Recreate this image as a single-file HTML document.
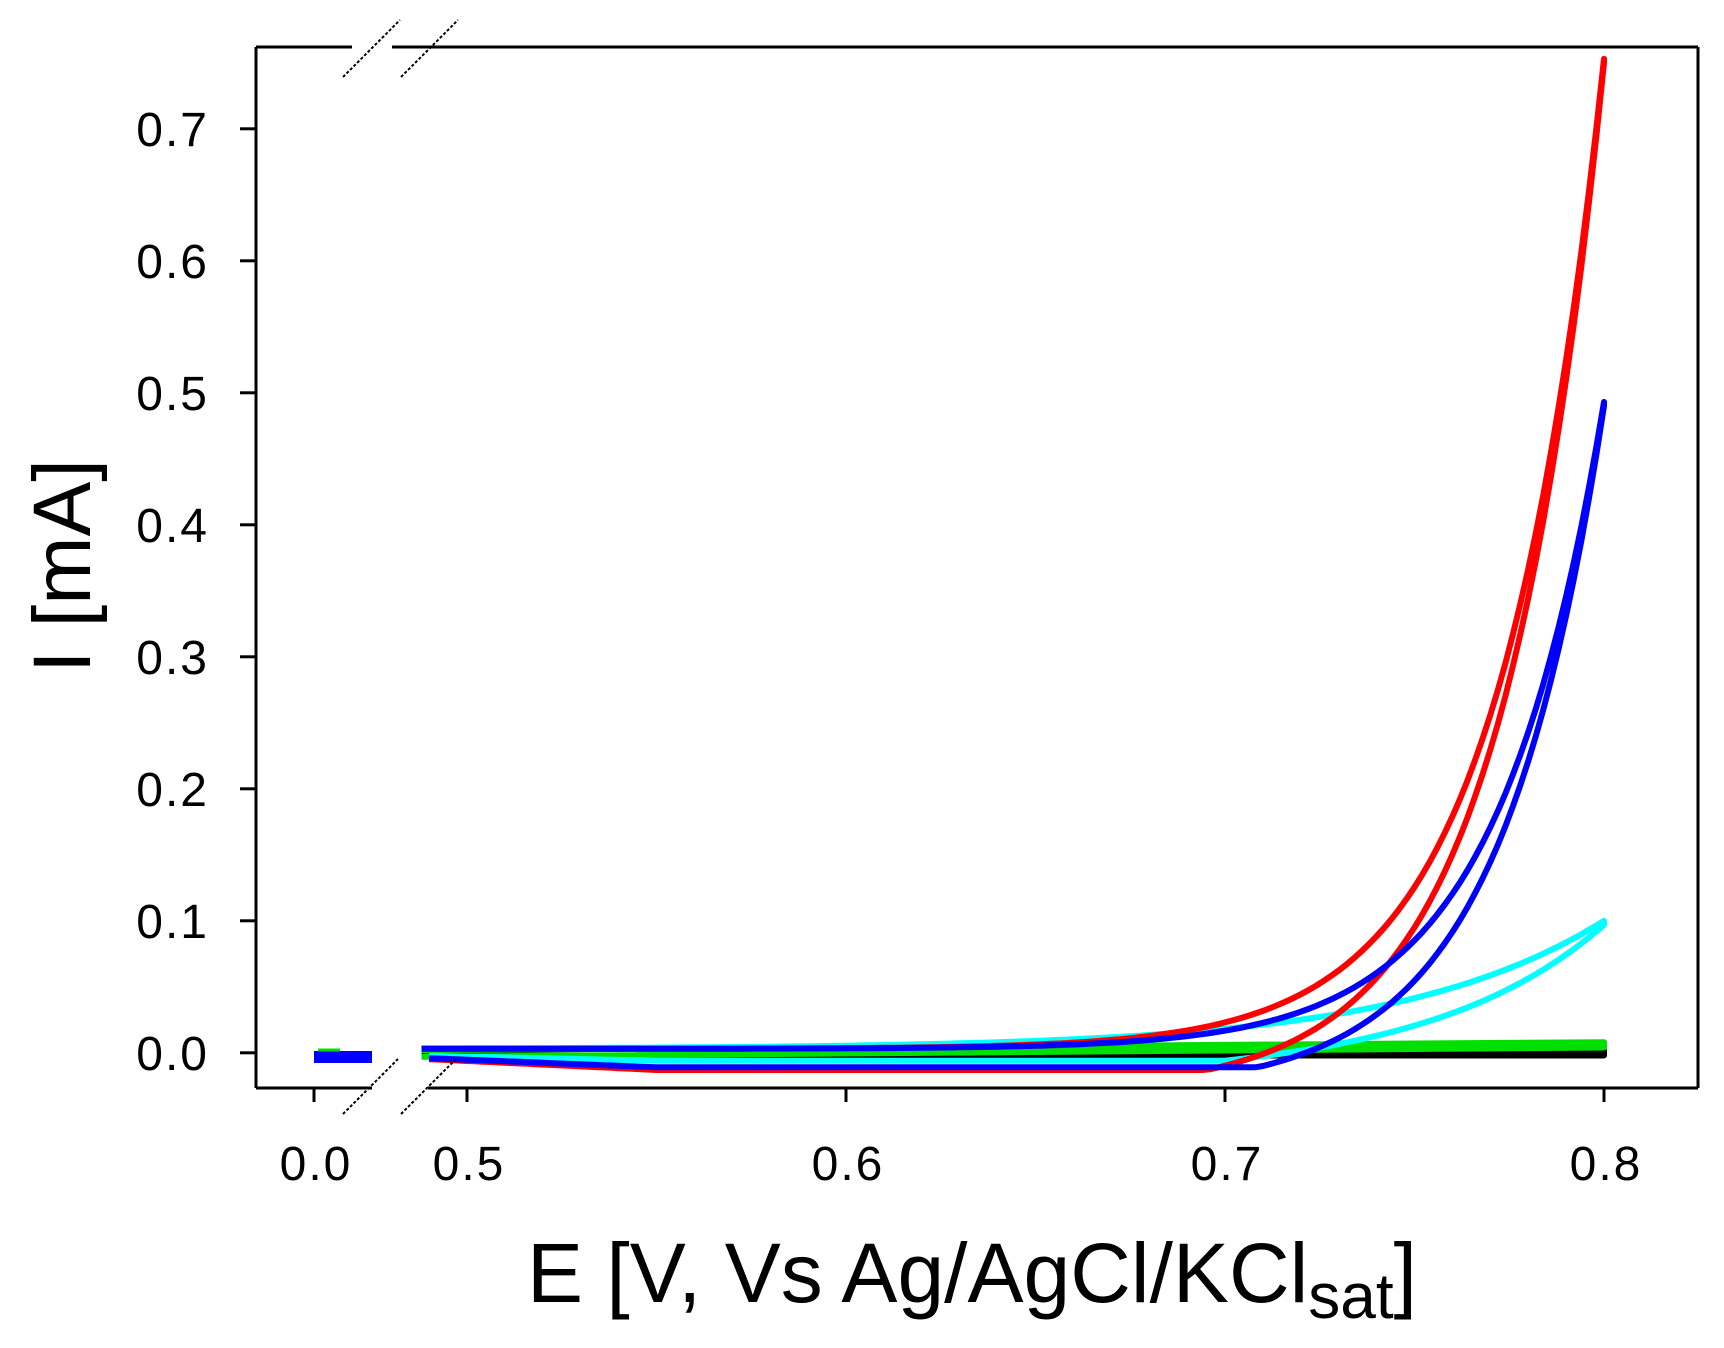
<!DOCTYPE html>
<html><head><meta charset="utf-8"><style>
html,body{margin:0;padding:0;background:#fff;}
svg{display:block;}
text{font-family:"Liberation Sans",Arial,sans-serif;fill:#000;}
</style></head><body>
<svg id="s" width="1724" height="1348" viewBox="0 0 1724 1348" xmlns="http://www.w3.org/2000/svg">
<rect width="1724" height="1348" fill="#fff"/>
<g id="curves" fill="none" stroke-width="6" stroke-linejoin="round"></g>
<g stroke="#000" stroke-width="3" fill="none">
<line x1="256" y1="47" x2="352" y2="47"/>
<line x1="392" y1="47" x2="1698" y2="47"/>
<line x1="1698" y1="47" x2="1698" y2="1088"/>
<line x1="256" y1="47" x2="256" y2="1088"/>
<line x1="256" y1="1088" x2="372" y2="1088"/>
<line x1="428" y1="1088" x2="1698" y2="1088"/>
</g>
<g stroke="#000" stroke-width="2" stroke-dasharray="3,2">
<line x1="343" y1="77" x2="400" y2="20"/>
<line x1="401" y1="77" x2="458" y2="20"/>
<line x1="343" y1="1114" x2="398" y2="1059"/>
<line x1="401" y1="1114" x2="456" y2="1059"/>
</g>
<g stroke="#000" stroke-width="3" id="ticks"></g>
<g font-size="48" id="labels"></g>
<text x="0" y="0" font-size="82" text-anchor="middle" transform="translate(90,566) rotate(-90)">I [mA]</text>
<text x="527" y="1302" font-size="84">E [V, Vs Ag/AgCl/KCl<tspan font-size="64" dy="16">sat</tspan><tspan dy="-16">]</tspan></text>
</svg>
<script>
var NS="http://www.w3.org/2000/svg";
function X(v){return 467+(v-0.5)*3790;}
function Y(i){return 1052.8-i*1320;}
var tk=document.getElementById("ticks"),lb=document.getElementById("labels");
function el(p,t,a,txt){var e=document.createElementNS(NS,t);for(var k in a)e.setAttribute(k,a[k]);if(txt)e.textContent=txt;p.appendChild(e);return e;}
for(var i=0;i<=7;i++){var y=Y(i/10);el(tk,"line",{x1:240,y1:y,x2:256,y2:y});
el(lb,"text",{x:209,y:y+17,"text-anchor":"end","letter-spacing":"2"},(i/10).toFixed(1));}
var xt=[[314,"0.0"],[X(0.5),"0.5"],[X(0.6),"0.6"],[X(0.7),"0.7"],[X(0.8),"0.8"]];
xt.forEach(function(t){el(tk,"line",{x1:t[0],y1:1088,x2:t[0],y2:1102});
el(lb,"text",{x:t[0]+2,y:1180,"text-anchor":"middle","letter-spacing":"2"},t[1]);});
var g=document.getElementById("curves");
function floorF(v,fl){ if(v>=0.55) return -fl; return -fl*(0.35+0.65*(v-0.488)/0.062); }
function loop(color,A,bf,D,tau,base,fl){
 var d="",v;
 for(v=0.488;v<=0.8001;v+=0.002){var I=base+A*Math.exp((v-0.8)/bf);d+=(d?"L":"M")+X(v).toFixed(1)+","+Y(I).toFixed(1);}
 for(v=0.8;v>=0.488;v-=0.002){var I2=A*Math.exp((v-0.8)/bf)-D*(1-Math.exp(-(0.8-v)/tau));var f=floorF(v,fl);if(I2<f)I2=f;d+="L"+X(v).toFixed(1)+","+Y(I2).toFixed(1);}
 el(g,"path",{d:d,stroke:color});
}
el(g,"path",{d:"M"+X(0.488)+","+Y(-0.002)+"L"+X(0.8)+","+Y(-0.002)+"L"+X(0.8)+","+Y(0.002)+"L"+X(0.6)+","+Y(0.001),stroke:"#000"});
el(g,"path",{d:"M"+X(0.488)+","+Y(-0.003)+"L"+X(0.8)+","+Y(0.004)+"L"+X(0.8)+","+Y(0.008)+"L"+X(0.6)+","+Y(0.004)+"L"+X(0.488)+","+Y(0.002),stroke:"#00e000"});
loop("#00ffff",0.097,0.054,0.022,0.03,0.003,0.006);
loop("#ff0000",0.75,0.0276,0.03,0.02,0.003,0.013);
loop("#0000ff",0.49,0.028,0.03,0.02,0.003,0.011);
el(g,"rect",{x:314,y:1051,width:58,height:12,fill:"#0000ff",stroke:"none"});
el(g,"line",{x1:318,y1:1050,x2:340,y2:1050,stroke:"#00e000","stroke-width":3});
</script>
</body></html>
